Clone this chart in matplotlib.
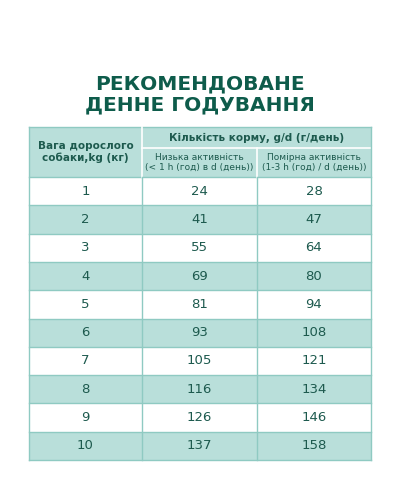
import matplotlib
matplotlib.use("Agg")
import matplotlib.pyplot as plt
from matplotlib.patches import Rectangle

title_lines = ["РЕКОМЕНДОВАНЕ", "ДЕННЕ ГОДУВАННЯ"]
head_weight = "Вага дорослого\nсобаки,kg (кг)"
head_amount = "Кількість корму, g/d (г/день)"
head_low = "Низька активність\n(< 1 h (год) в d (день))"
head_mid = "Помірна активність\n(1-3 h (год) / d (день))"
weights = [1, 2, 3, 4, 5, 6, 7, 8, 9, 10]
low_activity = [24, 41, 55, 69, 81, 93, 105, 116, 126, 137]
mid_activity = [28, 47, 64, 80, 94, 108, 121, 134, 146, 158]

TEAL = "#b9dfda"
LINE = "#8fcac2"
TEXT = "#1d5a4e"
TITLE = "#0e5c4b"

fig = plt.figure(figsize=(4, 5), dpi=100)
ax = fig.add_axes([0, 0, 1, 1])
ax.set_xlim(0, 400)
ax.set_ylim(500, 0)
ax.axis("off")

for i, line in enumerate(title_lines):
    ax.text(200, 84 + i * 21, line, ha="center", va="center", fontsize=14.5,
            fontweight="bold", color=TITLE, family="DejaVu Sans")

x0, x1, x2, x3 = 29, 142, 257, 371
top, sub, hbot = 127, 148, 177
rh = (460 - hbot) / len(weights)

ax.add_patch(Rectangle((x0, top), x3 - x0, hbot - top, fc=TEAL, ec="none"))
for i in range(len(weights)):
    y = hbot + i * rh
    fc = TEAL if i % 2 else "white"
    ax.add_patch(Rectangle((x0, y), x3 - x0, rh, fc=fc, ec="none"))
    ax.plot([x0, x3], [y, y], color=LINE, lw=1)
    cy = y + rh / 2
    for x, v in zip([(x0 + x1) / 2, (x1 + x2) / 2, (x2 + x3) / 2],
                    [weights[i], low_activity[i], mid_activity[i]]):
        ax.text(x, cy, str(v), ha="center", va="center", fontsize=9.5, color=TEXT)

bottom = hbot + len(weights) * rh
ax.plot([x0, x3], [top, top], color=LINE, lw=1)
ax.plot([x0, x3], [bottom, bottom], color=LINE, lw=1)
ax.plot([x1, x3], [sub, sub], color="white", lw=1.2)
for x in [x0, x3]:
    ax.plot([x, x], [top, bottom], color=LINE, lw=1)
ax.plot([x1, x1], [top, hbot], color="white", lw=1.2)
ax.plot([x2, x2], [sub, hbot], color="white", lw=1.2)
ax.plot([x1, x1], [hbot, bottom], color=LINE, lw=1)
ax.plot([x2, x2], [hbot, bottom], color=LINE, lw=1)

ax.text((x0 + x1) / 2, (top + hbot) / 2, head_weight, ha="center", va="center",
        fontsize=7.5, fontweight="bold", color=TEXT, linespacing=1.1)
ax.text((x1 + x3) / 2, (top + sub) / 2, head_amount, ha="center", va="center",
        fontsize=7.5, fontweight="bold", color=TEXT)
ax.text((x1 + x2) / 2, (sub + hbot) / 2, head_low, ha="center", va="center",
        fontsize=6.5, color=TEXT, linespacing=1.1)
ax.text((x2 + x3) / 2, (sub + hbot) / 2, head_mid, ha="center", va="center",
        fontsize=6.5, color=TEXT, linespacing=1.1)

fig.savefig("out.png", dpi=100)
